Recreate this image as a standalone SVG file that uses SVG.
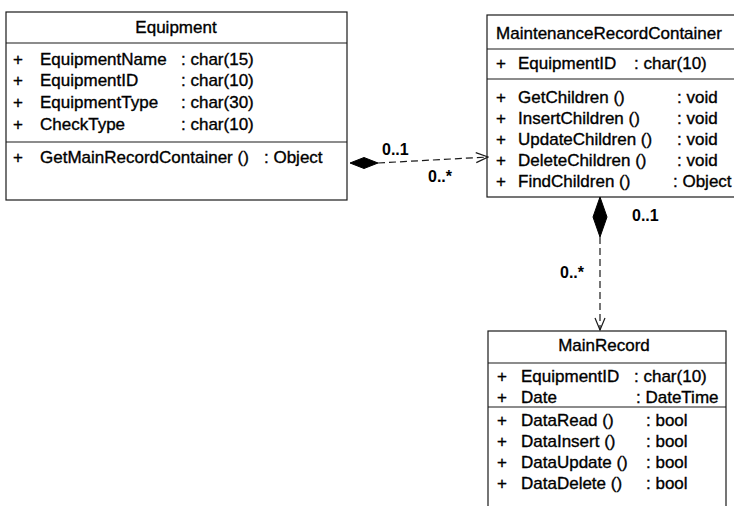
<svg xmlns="http://www.w3.org/2000/svg" width="734" height="506" viewBox="0 0 734 506">
  <defs>
    <style>
      .frame { fill: #ffffff; stroke: #1a1a1a; stroke-width: 1.2; }
      .sep { stroke: #1a1a1a; stroke-width: 1.2; }
      .t { font-family: "Liberation Sans", Arial, sans-serif; font-size: 17px; fill: #000; stroke: #000; stroke-width: 0.35; }
      .title { text-anchor: middle; }
      .mult { font-family: "Liberation Sans", Arial, sans-serif; font-size: 16px; font-weight: bold; fill: #000; }
      .link { fill: none; stroke: #1a1a1a; stroke-width: 1.2; stroke-dasharray: 7 4; }
      .diamond { fill: #000; stroke: #000; stroke-width: 1; }
    </style>
    <marker id="openArrow" viewBox="0 0 14 12" refX="13" refY="6" markerWidth="14" markerHeight="12" markerUnits="userSpaceOnUse" orient="auto">
      <path d="M1,1 L13,6 L1,11" fill="none" stroke="#1a1a1a" stroke-width="1.2"/>
    </marker>
  </defs>

  <!-- class: Equipment -->
  <g id="equipment">
    <rect class="frame" x="6" y="12" width="341" height="188"/>
    <line class="sep" x1="6" y1="43" x2="347" y2="43"/>
    <line class="sep" x1="6" y1="142" x2="347" y2="142"/>
    <text class="t title" x="176" y="33">Equipment</text>
    <text class="t" x="13" y="65">+</text>
    <text class="t" x="40" y="65">EquipmentName</text>
    <text class="t" x="181" y="65">: char(15)</text>
    <text class="t" x="13" y="86">+</text>
    <text class="t" x="40" y="86">EquipmentID</text>
    <text class="t" x="181" y="86">: char(10)</text>
    <text class="t" x="13" y="108">+</text>
    <text class="t" x="40" y="108">EquipmentType</text>
    <text class="t" x="181" y="108">: char(30)</text>
    <text class="t" x="13" y="130">+</text>
    <text class="t" x="40" y="130">CheckType</text>
    <text class="t" x="181" y="130">: char(10)</text>
    <text class="t" x="13" y="163">+</text>
    <text class="t" x="40" y="163">GetMainRecordContainer ()</text>
    <text class="t" x="264" y="163">: Object</text>
  </g>

  <!-- class: MaintenanceRecordContainer -->
  <g id="maintenance-record-container">
    <rect class="frame" x="487" y="15" width="250" height="182"/>
    <line class="sep" x1="487" y1="49" x2="737" y2="49"/>
    <line class="sep" x1="487" y1="79" x2="737" y2="79"/>
    <text class="t title" x="609" y="39">MaintenanceRecordContainer</text>
    <text class="t" x="496" y="69">+</text>
    <text class="t" x="518" y="69">EquipmentID</text>
    <text class="t" x="634" y="69">: char(10)</text>
    <text class="t" x="496" y="103">+</text>
    <text class="t" x="518" y="103">GetChildren ()</text>
    <text class="t" x="677" y="103">: void</text>
    <text class="t" x="496" y="124">+</text>
    <text class="t" x="518" y="124">InsertChildren ()</text>
    <text class="t" x="677" y="124">: void</text>
    <text class="t" x="496" y="145">+</text>
    <text class="t" x="518" y="145">UpdateChildren ()</text>
    <text class="t" x="677" y="145">: void</text>
    <text class="t" x="496" y="166">+</text>
    <text class="t" x="518" y="166">DeleteChildren ()</text>
    <text class="t" x="677" y="166">: void</text>
    <text class="t" x="496" y="187">+</text>
    <text class="t" x="518" y="187">FindChildren ()</text>
    <text class="t" x="673" y="187">: Object</text>
  </g>

  <!-- class: MainRecord -->
  <g id="main-record">
    <rect class="frame" x="488" y="331" width="238" height="180"/>
    <line class="sep" x1="488" y1="363" x2="726" y2="363"/>
    <line class="sep" x1="488" y1="407" x2="726" y2="407"/>
    <text class="t title" x="604" y="351">MainRecord</text>
    <text class="t" x="497" y="382">+</text>
    <text class="t" x="521" y="382">EquipmentID</text>
    <text class="t" x="634" y="382">: char(10)</text>
    <text class="t" x="497" y="403">+</text>
    <text class="t" x="521" y="403">Date</text>
    <text class="t" x="636" y="403">: DateTime</text>
    <text class="t" x="497" y="426">+</text>
    <text class="t" x="521" y="426">DataRead ()</text>
    <text class="t" x="646" y="426">: bool</text>
    <text class="t" x="497" y="447">+</text>
    <text class="t" x="521" y="447">DataInsert ()</text>
    <text class="t" x="646" y="447">: bool</text>
    <text class="t" x="497" y="468">+</text>
    <text class="t" x="521" y="468">DataUpdate ()</text>
    <text class="t" x="646" y="468">: bool</text>
    <text class="t" x="497" y="489">+</text>
    <text class="t" x="521" y="489">DataDelete ()</text>
    <text class="t" x="646" y="489">: bool</text>
  </g>

  <!-- composition links -->
  <g id="connectors">
    <polygon class="diamond" points="350,163 364,157.5 378,163 364,168.5"/>
    <line class="link" x1="378" y1="163" x2="488" y2="157" marker-end="url(#openArrow)"/>
    <text class="mult" x="382" y="155">0..1</text>
    <text class="mult" x="428" y="182">0..*</text>

    <polygon class="diamond" points="600,197 607,217 600,237 593,217"/>
    <line class="link" x1="600" y1="237" x2="600" y2="330" marker-end="url(#openArrow)"/>
    <text class="mult" x="632" y="221">0..1</text>
    <text class="mult" x="560" y="278">0..*</text>
  </g>
</svg>
